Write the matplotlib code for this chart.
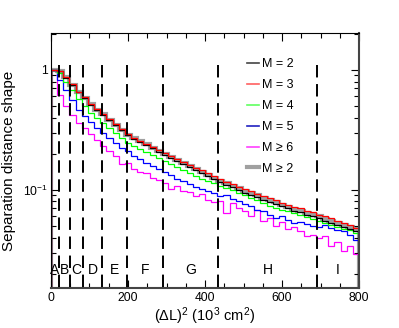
import numpy as np
import matplotlib
matplotlib.use("Agg")
import matplotlib.pyplot as plt
from matplotlib.ticker import FixedLocator, LogLocator, MultipleLocator, NullFormatter

plt.rcParams["font.family"] = ["Liberation Sans", "DejaVu Sans"]
plt.rcParams["mathtext.default"] = "regular"

# bin edges of the (dL)^2 histograms, 10^3 cm^2
edges = np.arange(0, 801, 16)

m2 = [1.00, 0.97, 0.86, 0.75, 0.65, 0.58, 0.51, 0.46, 0.42, 0.38,
      0.345, 0.315, 0.285, 0.265, 0.250, 0.236, 0.222, 0.208, 0.196, 0.184,
      0.173, 0.163, 0.154, 0.146, 0.138, 0.130, 0.123, 0.116, 0.110, 0.105,
      0.100, 0.095, 0.091, 0.087, 0.083, 0.079, 0.076, 0.073, 0.070, 0.067,
      0.065, 0.062, 0.060, 0.058, 0.055, 0.053, 0.051, 0.049, 0.047, 0.045]
m3 = [1.00, 0.98, 0.87, 0.76, 0.66, 0.59, 0.52, 0.47, 0.43, 0.39,
      0.355, 0.322, 0.292, 0.272, 0.257, 0.243, 0.229, 0.215, 0.203, 0.191,
      0.180, 0.170, 0.161, 0.153, 0.145, 0.137, 0.130, 0.123, 0.117, 0.111,
      0.106, 0.101, 0.097, 0.093, 0.089, 0.085, 0.082, 0.078, 0.075, 0.072,
      0.070, 0.067, 0.065, 0.062, 0.060, 0.058, 0.055, 0.053, 0.051, 0.048]
m4 = [1.00, 0.95, 0.80, 0.68, 0.57, 0.50, 0.44, 0.40, 0.36, 0.325,
      0.295, 0.268, 0.245, 0.232, 0.218, 0.206, 0.195, 0.184, 0.174, 0.163,
      0.154, 0.146, 0.138, 0.130, 0.124, 0.118, 0.113, 0.108, 0.104, 0.099,
      0.094, 0.090, 0.086, 0.082, 0.078, 0.074, 0.071, 0.068, 0.066, 0.064,
      0.062, 0.059, 0.057, 0.055, 0.053, 0.051, 0.049, 0.047, 0.046, 0.044]
m5 = [1.00, 0.82, 0.68, 0.56, 0.46, 0.41, 0.37, 0.33, 0.30, 0.27,
      0.245, 0.225, 0.210, 0.190, 0.182, 0.168, 0.158, 0.148, 0.140, 0.133,
      0.124, 0.118, 0.112, 0.106, 0.102, 0.097, 0.094, 0.088, 0.090, 0.084,
      0.080, 0.076, 0.073, 0.068, 0.066, 0.062, 0.058, 0.060, 0.056, 0.053,
      0.054, 0.052, 0.050, 0.049, 0.051, 0.048, 0.046, 0.045, 0.042, 0.038]
m6 = [1.00, 0.62, 0.50, 0.42, 0.36, 0.33, 0.29, 0.26, 0.23, 0.21,
      0.19, 0.165, 0.168, 0.150, 0.142, 0.138, 0.126, 0.120, 0.115, 0.102,
      0.108, 0.098, 0.096, 0.088, 0.093, 0.082, 0.079, 0.080, 0.064, 0.077,
      0.070, 0.066, 0.060, 0.068, 0.055, 0.058, 0.050, 0.054, 0.047, 0.049,
      0.045, 0.041, 0.042, 0.040, 0.041, 0.034, 0.037, 0.031, 0.034, 0.029]
mall = [1.00, 0.975, 0.865, 0.755, 0.655, 0.585, 0.515, 0.465, 0.425, 0.385,
        0.350, 0.318, 0.288, 0.268, 0.253, 0.239, 0.225, 0.211, 0.199, 0.187,
        0.176, 0.166, 0.157, 0.149, 0.141, 0.133, 0.126, 0.119, 0.113, 0.108,
        0.103, 0.098, 0.094, 0.090, 0.086, 0.082, 0.079, 0.075, 0.072, 0.069,
        0.067, 0.064, 0.062, 0.060, 0.057, 0.055, 0.053, 0.051, 0.049, 0.047]

# region boundaries and names
bounds = [21, 49, 83, 132, 197, 291, 434, 691]
regions = ["A", "B", "C", "D", "E", "F", "G", "H", "I"]

xmin, xmax = 0, 800
ymin, ymax = 0.0152, 2.03


def main():
    fig = plt.figure(figsize=(3.99, 3.28), dpi=100)
    ax = fig.add_axes([0.1278, 0.122, 0.772, 0.7774])

    base = 1e-4
    ax.stairs(mall, edges, baseline=base, color="#a0a0a0", lw=3.0, zorder=1)
    ax.stairs(m6, edges, baseline=base, color="#ff00ff", lw=0.9, zorder=2)
    ax.stairs(m5, edges, baseline=base, color="#0000ff", lw=0.9, zorder=2)
    ax.stairs(m4, edges, baseline=base, color="#00ff00", lw=0.9, zorder=2)
    ax.stairs(m2, edges, baseline=base, color="black", lw=0.9, zorder=2)
    ax.stairs(m3, edges, baseline=base, color="#ff0000", lw=0.9, zorder=2)

    for b in bounds:
        ax.plot([b, b], [1.1, ymin], color="black", lw=1.4,
                ls=(0, (6.4, 3.4)), zorder=3)

    edges_r = [xmin] + bounds + [xmax]
    for i, name in enumerate(regions):
        xc = 0.5 * (edges_r[i] + edges_r[i + 1])
        ax.text(xc, 0.0215, name, ha="center", va="center", fontsize=10)

    # legend entries
    handles = [
        plt.Line2D([], [], color="#444444", lw=1.2),
        plt.Line2D([], [], color="#ff6060", lw=1.2),
        plt.Line2D([], [], color="#60ff60", lw=1.2),
        plt.Line2D([], [], color="#2020c0", lw=1.2),
        plt.Line2D([], [], color="#ff40ff", lw=1.2),
        plt.Line2D([], [], color="#a0a0a0", lw=3.0),
    ]
    labels = ["M = 2", "M = 3", "M = 4", "M = 5", "M ≥ 6", "M ≥ 2"]
    ax.legend(handles, labels, loc="upper left", bbox_to_anchor=(0.636, 0.90),
              frameon=False, fontsize=9, handlelength=0.96, handletextpad=0.25,
              labelspacing=0.71, borderpad=0, borderaxespad=0)

    ax.set_xlim(xmin, xmax)
    ax.set_yscale("log")
    ax.set_ylim(ymin, ymax)

    ax.xaxis.set_major_locator(MultipleLocator(200))
    ax.xaxis.set_minor_locator(MultipleLocator(50))
    ax.yaxis.set_major_locator(FixedLocator([0.1, 1.0]))
    ax.yaxis.set_minor_locator(LogLocator(base=10, subs=np.arange(2, 10)))
    ax.yaxis.set_minor_formatter(NullFormatter())
    ax.set_yticklabels(["$10^{-1}$", "1"])

    ax.tick_params(which="both", direction="in", top=True, right=True,
                   labelsize=8.7, width=0.8)
    ax.tick_params(which="major", length=6)
    ax.tick_params(which="minor", length=3.5)
    ax.tick_params(axis="x", pad=3)
    ax.tick_params(axis="y", pad=2)

    for side in ["left", "top"]:
        ax.spines[side].set_linewidth(0.8)
    for side in ["right", "bottom"]:
        ax.spines[side].set_linewidth(1.5)
        ax.spines[side].set_color("#444444")

    fig.text(205 / 399, 1 - 316 / 328, "(ΔL)$^2$ (10$^3$ cm$^2$)",
             ha="center", va="center", fontsize=10.5)
    fig.text(9 / 399, 0.51, "Separation distance shape", rotation=90,
             ha="center", va="center", fontsize=11)

    fig.savefig("out.png", dpi=100)


if __name__ == "__main__":
    main()
